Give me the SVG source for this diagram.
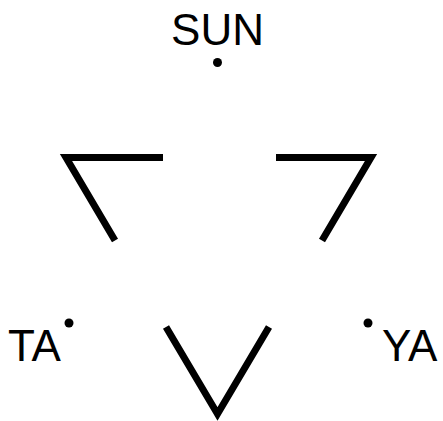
<svg xmlns="http://www.w3.org/2000/svg" width="443" height="421" viewBox="0 0 443 421">
<style>
.lbl{font-family:"Liberation Sans",Arial,sans-serif;font-size:44px;fill:#000}
.edge{fill:none;stroke:#000;stroke-width:7;stroke-linejoin:miter;stroke-linecap:butt;stroke-miterlimit:10}
</style>
<rect width="443" height="421" fill="#fff"/>
<g id="sun">
<text class="lbl" x="217.5" y="45" text-anchor="middle">SUN</text>
<circle cx="217.5" cy="62.5" r="4.5"/>
</g>
<g id="ta">
<text class="lbl" x="8" y="361">TA</text>
<circle cx="69" cy="323" r="4.5"/>
</g>
<g id="ya">
<text class="lbl" x="382" y="361">YA</text>
<circle cx="368" cy="323" r="4.5"/>
</g>
<g id="connectors">
<polyline class="edge" points="163,157.5 66,157.5 115,240.5"/>
<polyline class="edge" points="276,157.5 371,157.5 322,240.5"/>
<polyline class="edge" points="166,327 217.5,414 269,327"/>
</g>
</svg>
